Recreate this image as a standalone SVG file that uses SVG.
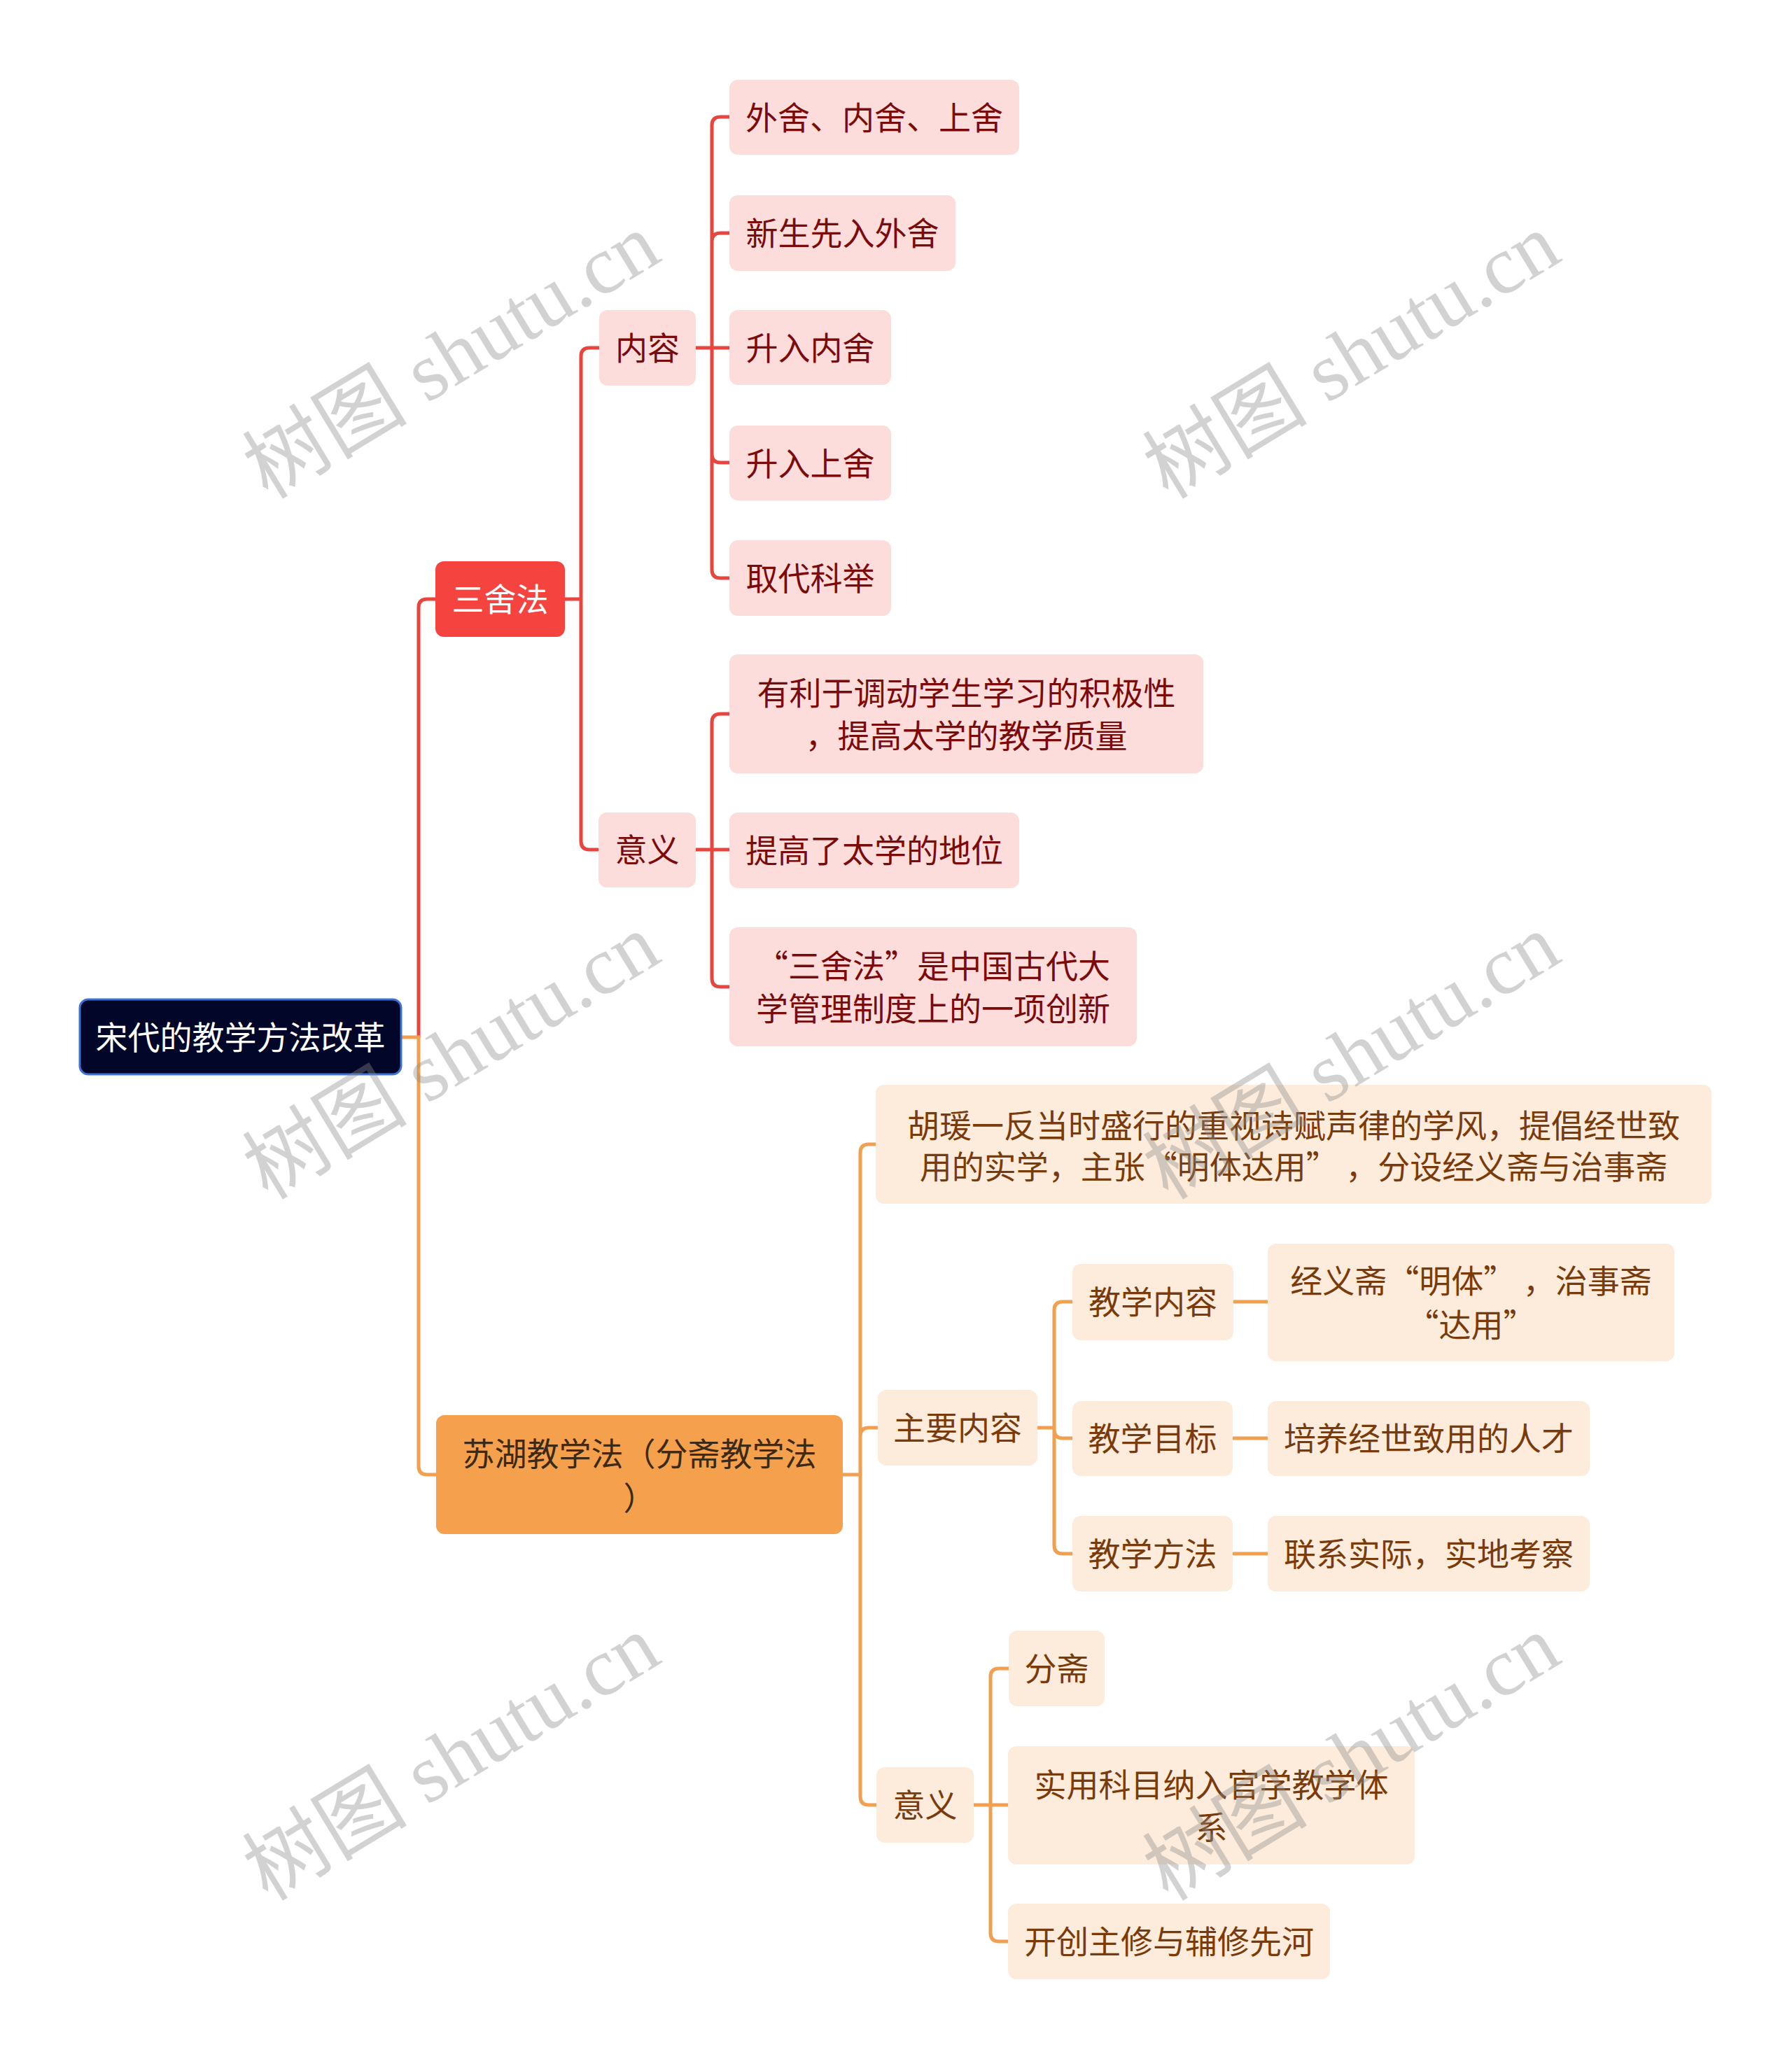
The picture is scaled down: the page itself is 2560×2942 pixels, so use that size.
<svg xmlns="http://www.w3.org/2000/svg" width="2560" height="2942" viewBox="0 0 2560 2942">
<style>
.t{font-family:"Noto Sans CJK SC","Noto Sans",sans-serif;font-size:46px;text-anchor:middle;dominant-baseline:central}
.r-leaf{fill:#FDDCDC}
.o-leaf{fill:#FDEBDB}
.rt{fill:#7B0B0B}
.ot{fill:#7A3B0C}
.cr{fill:none;stroke:#E8453E;stroke-width:5;stroke-linecap:round}
.co{fill:none;stroke:#F0A050;stroke-width:5;stroke-linecap:round}
.wm{font-family:"Liberation Serif","Noto Sans CJK SC",serif;font-size:118px;fill:#8c8c8c;opacity:0.38;text-anchor:middle;dominant-baseline:central}
</style>
<rect width="2560" height="2942" fill="#ffffff"/>
<g id="connectors">
  <path class="cr" d="M598,1482 V868 Q598,856 610,856 H622"/>
  <path class="co" d="M573,1482 H598 V2095 Q598,2107 610,2107 H623"/>
  <path class="cr" d="M807,856 H830 M830,856 V509 Q830,497 842,497 H856 M830,856 V1202 Q830,1214 842,1214 H855"/>
  <path class="cr" d="M994,497 H1042 M1017,497 V179 Q1017,167 1029,167 H1042 M1017,497 V814 Q1017,826 1029,826 H1042 M1017,345 Q1017,333 1029,333 H1042 M1017,649 Q1017,661 1029,661 H1042"/>
  <path class="cr" d="M994,1214 H1042 M1017,1214 V1032 Q1017,1020 1029,1020 H1042 M1017,1214 V1398 Q1017,1410 1029,1410 H1042"/>
  <path class="co" d="M1204,2107 H1229 M1229,2107 V1647 Q1229,1635 1241,1635 H1251 M1229,2052 Q1229,2040 1241,2040 H1254 M1229,2107 V2567 Q1229,2579 1241,2579 H1252"/>
  <path class="co" d="M1482,2040 H1506 M1506,2040 V1872 Q1506,1860 1518,1860 H1532 M1506,2043 Q1506,2055 1518,2055 H1532 M1506,2040 V2208 Q1506,2220 1518,2220 H1532"/>
  <path class="co" d="M1762,1860 H1811 M1761,2055 H1811 M1761,2220 H1811"/>
  <path class="co" d="M1391,2579 H1440 M1415,2579 V2396 Q1415,2384 1427,2384 H1441 M1415,2579 V2762 Q1415,2774 1427,2774 H1440"/>
</g>
<g id="root">
  <rect x="114" y="1428" width="459" height="107" rx="12" fill="#020629" stroke="#3B72D4" stroke-width="3"/>
  <text dy="-3" class="t" x="343.5" y="1482" font-size="48" fill="#ffffff">宋代的教学方法改革</text>
</g>
<g id="sanshefa">
  <rect x="622" y="802" width="185" height="108" rx="12" fill="#F5443F"/>
  <text dy="-3" class="t" x="714.5" y="856" fill="#ffffff">三舍法</text>
</g>
<g id="neirong">
  <rect class="r-leaf" x="856" y="443" width="138" height="108" rx="12"/>
  <text dy="-3" class="t rt" x="925" y="497">内容</text>
</g>
<g id="yiyi-r">
  <rect class="r-leaf" x="855" y="1161" width="139" height="107" rx="12"/>
  <text dy="-3" class="t rt" x="924.5" y="1214">意义</text>
</g>
<g id="n-waishe">
  <rect class="r-leaf" x="1042" y="114" width="414" height="107" rx="12"/>
  <text dy="-3" class="t rt" x="1249" y="167.5">外舍、内舍、上舍</text>
</g>
<g id="n-xinsheng">
  <rect class="r-leaf" x="1042" y="279" width="323" height="108" rx="12"/>
  <text dy="-3" class="t rt" x="1203.5" y="333">新生先入外舍</text>
</g>
<g id="n-neishe">
  <rect class="r-leaf" x="1042" y="443" width="231" height="107" rx="12"/>
  <text dy="-3" class="t rt" x="1157.5" y="496.5">升入内舍</text>
</g>
<g id="n-shangshe">
  <rect class="r-leaf" x="1042" y="608" width="231" height="107" rx="12"/>
  <text dy="-3" class="t rt" x="1157.5" y="661.5">升入上舍</text>
</g>
<g id="n-qudai">
  <rect class="r-leaf" x="1042" y="772" width="231" height="108" rx="12"/>
  <text dy="-3" class="t rt" x="1157.5" y="826">取代科举</text>
</g>
<g id="n-youli">
  <rect class="r-leaf" x="1042" y="935" width="677" height="170" rx="12"/>
  <text dy="-3" class="t rt" x="1380.5" y="990">有利于调动学生学习的积极性</text>
  <text dy="-3" class="t rt" x="1380.5" y="1051">，提高太学的教学质量</text>
</g>
<g id="n-tigao">
  <rect class="r-leaf" x="1042" y="1161" width="414" height="108" rx="12"/>
  <text dy="-3" class="t rt" x="1249" y="1215">提高了太学的地位</text>
</g>
<g id="n-chuangxin">
  <rect class="r-leaf" x="1042" y="1325" width="582" height="170" rx="12"/>
  <text dy="-3" class="t rt" x="1333" y="1380">“三舍法”是中国古代大</text>
  <text dy="-3" class="t rt" x="1333" y="1441">学管理制度上的一项创新</text>
</g>
<g id="suhu">
  <rect x="623" y="2022" width="581" height="170" rx="12" fill="#F4A04D"/>
  <text dy="-3" class="t" x="913.5" y="2077" fill="#3A2A16">苏湖教学法（分斋教学法</text>
  <text dy="-3" class="t" x="913.5" y="2140" fill="#3A2A16">）</text>
</g>
<g id="n-huyuan">
  <rect class="o-leaf" x="1251" y="1550" width="1194" height="170" rx="12"/>
  <text dy="-3" class="t ot" x="1848" y="1608">胡瑗一反当时盛行的重视诗赋声律的学风，提倡经世致</text>
  <text dy="-3" class="t ot" x="1848" y="1667">用的实学，主张“明体达用” ，分设经义斋与治事斋</text>
</g>
<g id="n-zhuyao">
  <rect class="o-leaf" x="1254" y="1986" width="228" height="108" rx="12"/>
  <text dy="-3" class="t ot" x="1368" y="2040">主要内容</text>
</g>
<g id="n-jxnr">
  <rect class="o-leaf" x="1532" y="1806" width="230" height="109" rx="12"/>
  <text dy="-3" class="t ot" x="1647" y="1860">教学内容</text>
</g>
<g id="n-jingyi">
  <rect class="o-leaf" x="1811" y="1777" width="581" height="168" rx="12"/>
  <text dy="-3" class="t ot" x="2101.5" y="1830">经义斋“明体” ，治事斋</text>
  <text dy="-3" class="t ot" x="2101.5" y="1893">“达用”</text>
</g>
<g id="n-jxmb">
  <rect class="o-leaf" x="1532" y="2002" width="229" height="107" rx="12"/>
  <text dy="-3" class="t ot" x="1646.5" y="2055">教学目标</text>
</g>
<g id="n-peiyang">
  <rect class="o-leaf" x="1811" y="2002" width="460" height="107" rx="12"/>
  <text dy="-3" class="t ot" x="2041" y="2055">培养经世致用的人才</text>
</g>
<g id="n-jxff">
  <rect class="o-leaf" x="1532" y="2166" width="229" height="108" rx="12"/>
  <text dy="-3" class="t ot" x="1646.5" y="2220">教学方法</text>
</g>
<g id="n-lianxi">
  <rect class="o-leaf" x="1811" y="2166" width="460" height="108" rx="12"/>
  <text dy="-3" class="t ot" x="2041" y="2220">联系实际，实地考察</text>
</g>
<g id="yiyi-o">
  <rect class="o-leaf" x="1252" y="2525" width="139" height="108" rx="12"/>
  <text dy="-3" class="t ot" x="1321.5" y="2579">意义</text>
</g>
<g id="n-fenzhai">
  <rect class="o-leaf" x="1441" y="2330" width="137" height="108" rx="12"/>
  <text dy="-3" class="t ot" x="1509.5" y="2384">分斋</text>
</g>
<g id="n-shiyong">
  <rect class="o-leaf" x="1440" y="2495" width="581" height="169" rx="12"/>
  <text dy="-3" class="t ot" x="1730.5" y="2550">实用科目纳入官学教学体</text>
  <text dy="-3" class="t ot" x="1730.5" y="2611">系</text>
</g>
<g id="n-kaichuang">
  <rect class="o-leaf" x="1440" y="2720" width="460" height="108" rx="12"/>
  <text dy="-3" class="t ot" x="1670" y="2774">开创主修与辅修先河</text>
</g>
<g id="watermarks">
  <text class="wm" transform="translate(645,509) rotate(-31.3)">树图 shutu.cn</text>
  <text class="wm" transform="translate(1931,509) rotate(-31.3)">树图 shutu.cn</text>
  <text class="wm" transform="translate(645,1510) rotate(-31.3)">树图 shutu.cn</text>
  <text class="wm" transform="translate(1931,1510) rotate(-31.3)">树图 shutu.cn</text>
  <text class="wm" transform="translate(645,2512) rotate(-31.3)">树图 shutu.cn</text>
  <text class="wm" transform="translate(1931,2512) rotate(-31.3)">树图 shutu.cn</text>
</g>
</svg>
